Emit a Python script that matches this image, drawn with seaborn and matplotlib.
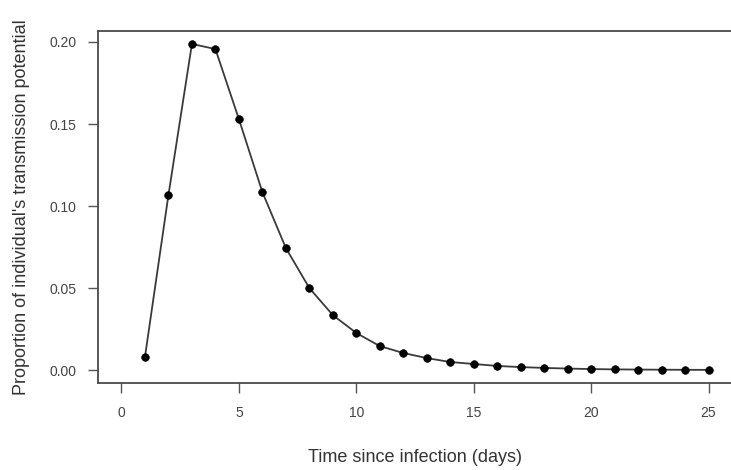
import matplotlib
matplotlib.use("Agg")
import matplotlib.pyplot as plt
import seaborn as sns
import pandas as pd

days = list(range(1, 26))
proportion = [0.008, 0.1067, 0.1988, 0.1957, 0.153, 0.1085, 0.0744, 0.0500,
              0.0335, 0.0226, 0.0146, 0.0104, 0.0073, 0.0049, 0.0037, 0.0025,
              0.0018, 0.0013, 0.0009, 0.0006, 0.0004, 0.0003, 0.0002, 0.00015,
              0.0001]
x_ticks = [0, 5, 10, 15, 20, 25]
y_ticks = [0.00, 0.05, 0.10, 0.15, 0.20]
y_tick_labels = ["0.00", "0.05", "0.10", "0.15", "0.20"]
x_label = "Time since infection (days)"
y_label = "Proportion of individual's transmission potential"

sns.set_style("white")
plt.rcParams['font.family'] = ['Liberation Sans', 'DejaVu Sans']

df = pd.DataFrame({"day": days, "prop": proportion})

fig = plt.figure(figsize=(7.31, 4.70), dpi=100)
W, H = 731, 470
left, right, top, bottom = 98, 732, 31, 383
ax = fig.add_axes([left / W, 1 - bottom / H, (right - left) / W, (bottom - top) / H])

sns.lineplot(data=df, x="day", y="prop", ax=ax, color="#3a3a3a", linewidth=1.3,
             marker="o", markersize=5.5, markerfacecolor="black",
             markeredgecolor="black", markeredgewidth=0.5)

ax.set_xlim(-1, 26)
ax.set_ylim(-0.0079, 0.2067)
ax.set_xticks(x_ticks)
ax.set_xticklabels([str(t) for t in x_ticks])
ax.set_yticks(y_ticks)
ax.set_yticklabels(y_tick_labels)

for s in ax.spines.values():
    s.set_visible(True)
    s.set_color("#4a4a4a")
    s.set_linewidth(1.3)

ax.tick_params(axis="both", direction="out", length=7.5, width=1.0,
               color="#555555", labelsize=10, labelcolor="#444444",
               bottom=True, left=True)
ax.tick_params(axis="x", pad=9)
ax.tick_params(axis="y", pad=8)

ax.set_xlabel(x_label, fontsize=13, color="#333333", labelpad=21)
ax.set_ylabel(y_label, fontsize=13, color="#333333", labelpad=14)

fig.savefig("out.png", dpi=100)
